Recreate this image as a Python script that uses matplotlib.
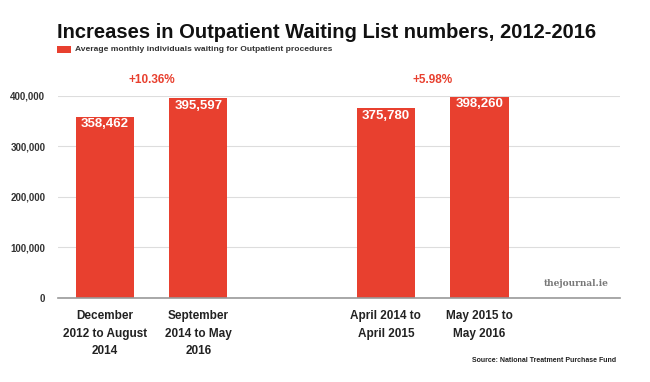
import matplotlib.pyplot as plt
from matplotlib.patches import Rectangle

labels = ['December\n2012 to August\n2014', 'September\n2014 to May\n2016',
          'April 2014 to\nApril 2015', 'May 2015 to\nMay 2016']
values = [358462, 395597, 375780, 398260]
positions = [0, 1, 3, 4]
changes = ['+10.36%', '+5.98%']

red = '#e8402f'
plt.rcParams['font.family'] = ['Liberation Sans', 'DejaVu Sans']

fig = plt.figure(figsize=(6.5, 3.82), dpi=100)
ax = fig.add_axes([0.089, 0.22, 0.865, 0.529])

ax.bar(positions, values, width=0.62, color=red, zorder=2)
ax.set_xlim(-0.5, 5.5)
ax.set_ylim(0, 400000)
ax.set_yticks([0, 100000, 200000, 300000, 400000])
ax.set_yticklabels([f'{v:,}' for v in [0, 100000, 200000, 300000, 400000]],
                   fontsize=7, fontweight='bold', color='#333333')
ax.set_xticks(positions)
ax.set_xticklabels(labels, fontsize=8.5, fontweight='bold', color='#222222',
                   linespacing=1.6)
ax.tick_params(axis='x', length=0, pad=9)
ax.tick_params(axis='y', length=0, pad=9)
ax.grid(axis='y', color='#dddddd', linewidth=0.8, zorder=0)
for s in ['top', 'right', 'left']:
    ax.spines[s].set_visible(False)
ax.spines['bottom'].set_color('#999999')
ax.spines['bottom'].set_linewidth(1.2)

for x, v in zip(positions, values):
    ax.text(x, v - 3000, f'{v:,}', ha='center', va='top', color='white',
            fontsize=9.5, fontweight='bold', zorder=3)

ax.text((positions[0] + positions[1]) / 2, 432000, changes[0], ha='center', va='center',
        color=red, fontsize=8.5, fontweight='bold', clip_on=False)
ax.text((positions[2] + positions[3]) / 2, 432000, changes[1], ha='center', va='center',
        color=red, fontsize=8.5, fontweight='bold', clip_on=False)

fig.text(0.087, 0.915, 'Increases in Outpatient Waiting List numbers, 2012-2016',
         fontsize=14.5, fontweight='bold', ha='left', va='center', color='#111111')
fig.patches.append(Rectangle((0.088, 0.862), 0.021, 0.017, transform=fig.transFigure,
                             facecolor=red, edgecolor='none'))
fig.text(0.115, 0.870, 'Average monthly individuals waiting for Outpatient procedures',
         fontsize=6.1, fontweight='bold', ha='left', va='center', color='#333333')

fig.text(0.937, 0.257, 'thejournal.ie', family='DejaVu Serif', fontsize=6.5,
         fontweight='bold', color='#777777', ha='right', va='center')
fig.text(0.948, 0.055, 'Source: National Treatment Purchase Fund', fontsize=5,
         fontweight='bold', color='#222222', ha='right', va='center')

fig.savefig('out.png', dpi=100)
